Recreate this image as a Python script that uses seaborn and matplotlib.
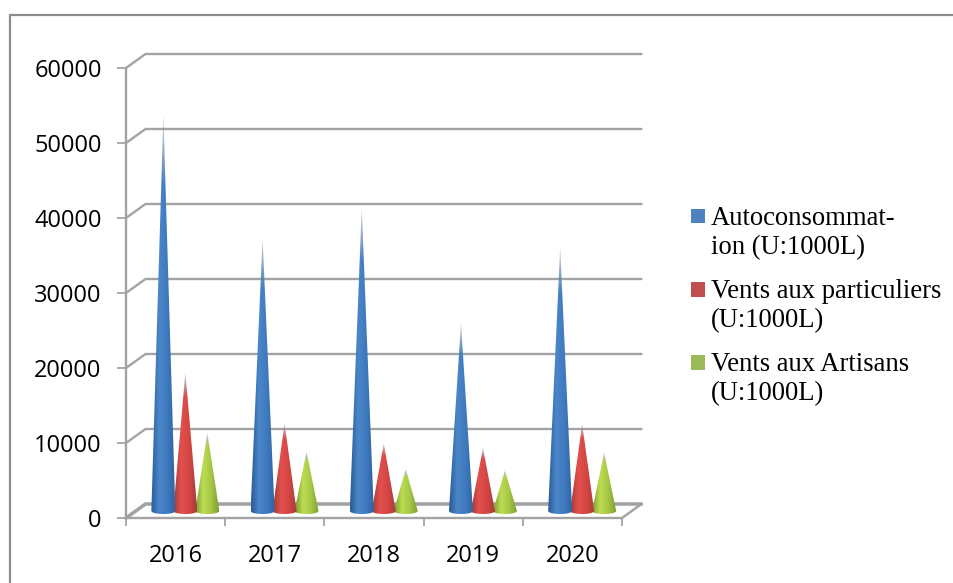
import numpy as np
import pandas as pd
import matplotlib
matplotlib.use("Agg")
import matplotlib.pyplot as plt
from matplotlib.colors import LinearSegmentedColormap, to_rgb
from matplotlib.legend_handler import HandlerPatch
from matplotlib.lines import Line2D
from matplotlib.patches import PathPatch, Rectangle
from matplotlib.path import Path
import seaborn as sns

years = ["2016", "2017", "2018", "2019", "2020"]
autoconsommation = [52800, 36400, 40400, 25100, 35200]
particuliers = [18500, 11700, 9000, 8400, 11600]
artisans = [10400, 7900, 5600, 5400, 7800]

series_names = [
    "Autoconsommat-\nion (U:1000L)",
    "Vents aux particuliers\n(U:1000L)",
    "Vents aux Artisans\n(U:1000L)",
]
legend_colors = ["#4F81BD", "#C0504D", "#9BBB59"]
cone_shades = [
    ["#2b5b97", "#4a86c8", "#3f7abf", "#2f63a3"],
    ["#a23a36", "#e2504e", "#d44643", "#a83c36"],
    ["#7a9a32", "#bcdc52", "#a6c846", "#7f9f34"],
]
tip_shade = "#8a93a3"

WIDTH, HEIGHT = 954, 583
AXIS_LEFT, AXIS_RIGHT, AXIS_TOP, AXIS_BOTTOM = 126, 622, 68, 518
GREY = "#a3a3a3"

sns.set_theme(style="white")
plt.rcParams["font.family"] = ["Open Sans", "DejaVu Sans"]

frame = pd.DataFrame({"year": years, series_names[0]: autoconsommation,
                      series_names[1]: particuliers, series_names[2]: artisans})
long_frame = frame.melt(id_vars="year", var_name="serie", value_name="value")

fig = plt.figure(figsize=(WIDTH / 100, HEIGHT / 100), dpi=100, facecolor="white")
ax = fig.add_axes([AXIS_LEFT / WIDTH, 1 - AXIS_BOTTOM / HEIGHT,
                   (AXIS_RIGHT - AXIS_LEFT) / WIDTH, (AXIS_BOTTOM - AXIS_TOP) / HEIGHT])

sns.barplot(data=long_frame, x="year", y="value", hue="serie", hue_order=series_names,
            width=0.665, dodge=True, legend=False, ax=ax)
ax.set_xlim(-0.5, 4.5)
ax.set_ylim(0, 60000)
ax.patch.set_alpha(0)
ax.set_xlabel("")
ax.set_ylabel("")

# Depth of the pseudo-3D box, in data units
px_x = (AXIS_RIGHT - AXIS_LEFT) / 5
px_y = (AXIS_BOTTOM - AXIS_TOP) / 60000
depth_x = 19.5 / px_x
depth_y = 14 / px_y

# Back wall gridlines with their diagonal return to the value axis
y_ticks = np.arange(0, 60001, 10000)
for v in y_ticks:
    ax.plot([-0.5, -0.5 + depth_x, 4.5 + depth_x], [v, v + depth_y, v + depth_y],
            color=GREY, lw=2.6 if v == 0 else 1.7, clip_on=False, zorder=1,
            solid_joinstyle="miter")
# Floor outline
ax.plot([4.5, 4.5 + depth_x], [0, depth_y], color=GREY, lw=1.7, clip_on=False, zorder=1)

# Turn each bar into a shaded cone standing mid-way through the box depth
ellipse = 3 / px_y
cone_half = 12 / px_x
for s, container in enumerate(ax.containers):
    cmap = LinearSegmentedColormap.from_list("cone", cone_shades[s])
    across = cmap(np.linspace(0, 1, 64))[None, :, :3]
    for bar in container:
        bar.set_visible(False)
        cx = bar.get_x() + bar.get_width() / 2 + depth_x / 2
        base = depth_y / 2
        tip = base + bar.get_height()
        theta = np.linspace(0, np.pi, 24)
        xs = np.r_[cx, cx + cone_half * np.cos(theta), cx]
        ys = np.r_[tip, base - ellipse * np.sin(theta), tip]
        outline = PathPatch(Path(np.c_[xs, ys]), transform=ax.transData, fc="none", ec="none")
        ax.add_patch(outline)

        # Colour runs across the cone; the slender top washes out to a pale grey
        up = np.linspace(0, 1, 128)[:, None, None]
        fade = np.clip((up - 0.83) / 0.17, 0, 1)
        rgb = across * (1 - fade) + np.array(to_rgb(tip_shade)) * fade
        alpha = np.broadcast_to(1 - 0.55 * fade, rgb.shape[:2] + (1,))
        rgba = np.concatenate([rgb, alpha], axis=2)
        image = ax.imshow(rgba, aspect="auto", origin="lower", interpolation="bilinear",
                          extent=(cx - cone_half, cx + cone_half, base - ellipse, tip),
                          zorder=6 - s)
        image.set_clip_path(outline)
ax.set_xlim(-0.5, 4.5)
ax.set_ylim(0, 60000)

# Axes, ticks and labels
sns.despine(ax=ax)
for side in ("left", "bottom"):
    ax.spines[side].set_color(GREY)
    ax.spines[side].set_linewidth(1.7)
ax.set_yticks(y_ticks)
ax.set_xticks(np.arange(-0.5, 5, 1), minor=True)
ax.set_xticks(range(5), years)
ax.tick_params(axis="x", which="major", length=0, pad=19, labelsize=17, labelcolor="black")
ax.tick_params(axis="x", which="minor", direction="out", length=5.5, width=1.3, color=GREY, bottom=True)
ax.tick_params(axis="y", direction="out", length=6.5, width=1.3, color=GREY, left=True,
               pad=11, labelsize=17, labelcolor="black")


def raised_square(legend, orig_handle, xdescent, ydescent, width, height, fontsize):
    # The key sits beside the first line of its two-line label
    return Rectangle((-xdescent, -ydescent + fontsize * 0.72), width, width)


handles = [Rectangle((0, 0), 1, 1, fc=c, ec="none") for c in legend_colors]
legend = ax.legend(handles, series_names, loc="upper left",
                   bbox_to_anchor=(691 / WIDTH, 1 - 206 / HEIGHT), bbox_transform=fig.transFigure,
                   frameon=False, borderpad=0, borderaxespad=0, handlelength=0.53, handletextpad=0.22,
                   labelspacing=0.7, handler_map={Rectangle: HandlerPatch(patch_func=raised_square)},
                   prop={"family": "Liberation Serif", "size": 19.2})
for text in legend.get_texts():
    text.set_color("black")
    text.set_linespacing(1.23)

# Chart area border, visible on the top and left only
for xs, ys in (([10, 10], [583, 15]), ([10, 954], [15, 15])):
    fig.add_artist(Line2D([x / WIDTH for x in xs], [1 - y / HEIGHT for y in ys],
                          color="#8c8c8c", lw=1.6))

fig.savefig("out.png", dpi=100)
